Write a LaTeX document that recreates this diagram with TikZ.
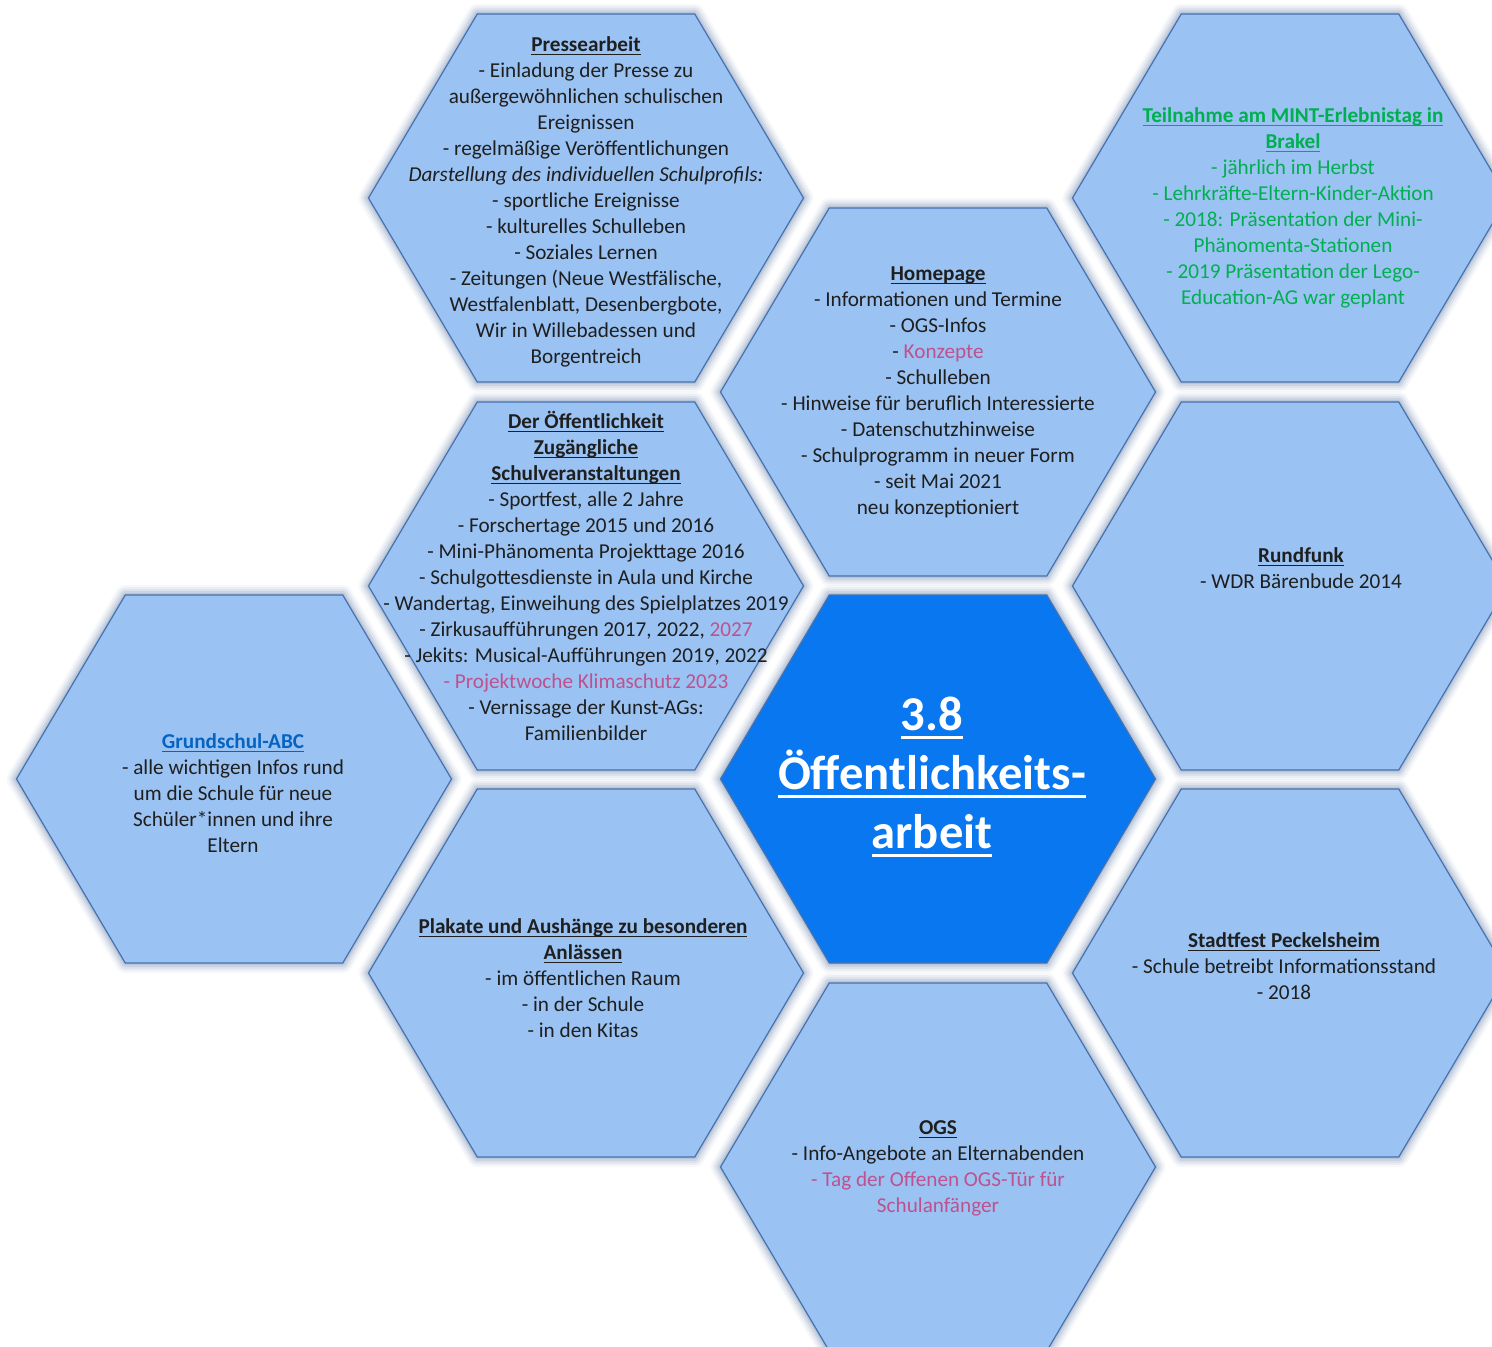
\documentclass[tikz,border=0pt]{standalone}
\usepackage{fontspec}
\setmainfont{Carlito}

\definecolor{cellblue}{RGB}{154,194,242}
\definecolor{coreblue}{RGB}{8,119,240}
\definecolor{celledge}{RGB}{70,114,175}
\definecolor{glow}{RGB}{105,130,170}
\definecolor{newpink}{RGB}{190,82,142}
\definecolor{mintgreen}{RGB}{0,176,80}
\definecolor{linkblue}{RGB}{5,99,193}

% underline: depth, thickness, text
\newcommand{\ulsub}[3]{\leavevmode\setbox0\hbox{#3}\rlap{\rule[-\dimexpr#1+#2\relax]{\wd0}{#2}}\box0}
\newcommand{\hd}[1]{\ulsub{1.2pt}{0.5pt}{\bfseries #1}}
\newcommand{\bighd}[1]{\ulsub{3pt}{1.5pt}{#1}}

\begin{document}
\begin{tikzpicture}[x=0.5pt, y=-0.5pt,
    hexcell/.style={draw=celledge, line width=0.6pt,
      preaction={draw=glow, line width=10pt, draw opacity=0.06, line join=round},
      preaction={draw=glow, line width=8pt, draw opacity=0.08, line join=round},
      preaction={draw=glow, line width=6pt, draw opacity=0.11, line join=round},
      preaction={draw=glow, line width=4pt, draw opacity=0.15, line join=round},
      preaction={draw=glow, line width=2pt, draw opacity=0.2, line join=round}},
    txt/.style={align=center, inner sep=0pt, font=\fontsize{10.6}{13}\selectfont, text=black!88}]

  \useasboundingbox (0,0) rectangle (1492,1347);

  \foreach \x/\y/\t/\c in {586/198/press/cellblue, 1290/198/mint/cellblue, 938/392/home/cellblue,
      586/586/event/cellblue, 1290/586/radio/cellblue, 234/779/abc/cellblue, 938/779/core/coreblue,
      586/973/poster/cellblue, 1290/973/fest/cellblue, 938/1167/ogs/cellblue}
    \path[hexcell, fill=\c, shift={(\x,\y)}]
      (-217.5,0) -- (-108.75,-184) -- (108.75,-184) -- (217.5,0) -- (108.75,184) -- (-108.75,184) -- cycle;

  \node[txt] (press) at (586,202) {\hd{Pressearbeit}\\
    - Einladung der Presse zu\\
    außergewöhnlichen schulischen\\
    Ereignissen\\
    - regelmäßige Veröffentlichungen\\
    \textit{Darstellung des individuellen Schulprofils:}\\
    - sportliche Ereignisse\\
    - kulturelles Schulleben\\
    - Soziales Lernen\\
    - Zeitungen (Neue Westfälische,\\
    Westfalenblatt, Desenbergbote,\\
    Wir in Willebadessen und\\
    Borgentreich};

  \node[txt, text=mintgreen] (mint) at (1293,208) {\hd{Teilnahme am MINT-Erlebnistag in}\\
    \hd{Brakel}\\
    - jährlich im Herbst\\
    - Lehrkräfte-Eltern-Kinder-Aktion\\
    - 2018: Präsentation der Mini-\\
    Phänomenta-Stationen\\
    - 2019 Präsentation der Lego-\\
    Education-AG war geplant};

  \node[txt] (home) at (938,392) {\hd{Homepage}\\
    - Informationen und Termine\\
    - OGS-Infos\\
    - \textcolor{newpink}{Konzepte}\\
    - Schulleben\\
    - Hinweise für beruflich Interessierte\\
    - Datenschutzhinweise\\
    - Schulprogramm in neuer Form\\
    - seit Mai 2021\\
    neu konzeptioniert};

  \node[txt] (event) at (586,576) {\hd{Der Öffentlichkeit}\\
    \hd{Zugängliche}\\
    \hd{Schulveranstaltungen}\\
    - Sportfest, alle 2 Jahre\\
    - Forschertage 2015 und 2016\\
    - Mini-Phänomenta Projekttage 2016\\
    - Schulgottesdienste in Aula und Kirche\\
    - Wandertag, Einweihung des Spielplatzes 2019\\
    - Zirkusaufführungen 2017, 2022, \textcolor{newpink}{2027}\\
    - Jekits: Musical-Aufführungen 2019, 2022\\
    \textcolor{newpink}{- Projektwoche Klimaschutz 2023}\\
    - Vernissage der Kunst-AGs:\\
    Familienbilder};

  \node[txt] (radio) at (1301,568) {\hd{Rundfunk}\\
    - WDR Bärenbude 2014};

  \node[txt] (abc) at (233,793) {\textcolor{linkblue}{\hd{Grundschul-ABC}}\\
    - alle wichtigen Infos rund\\
    um die Schule für neue\\
    Schüler*innen und ihre\\
    Eltern};

  \node[txt, text=white, font=\fontsize{24.3}{29.5}\selectfont\bfseries] (core) at (932,777)
    {\bighd{3.8}\\ \bighd{Öffentlichkeits-}\\ \bighd{arbeit}};

  \node[txt] (poster) at (583,978) {\hd{Plakate und Aushänge zu besonderen}\\
    \hd{Anlässen}\\
    - im öffentlichen Raum\\
    - in der Schule\\
    - in den Kitas};

  \node[txt] (fest) at (1284,966) {\hd{Stadtfest Peckelsheim}\\
    - Schule betreibt Informationsstand\\
    - 2018};

  \node[txt] (ogs) at (938,1168) {\hd{OGS}\\
    - Info-Angebote an Elternabenden\\
    \textcolor{newpink}{- Tag der Offenen OGS-Tür für}\\
    \textcolor{newpink}{Schulanfänger}};

\end{tikzpicture}
\end{document}
